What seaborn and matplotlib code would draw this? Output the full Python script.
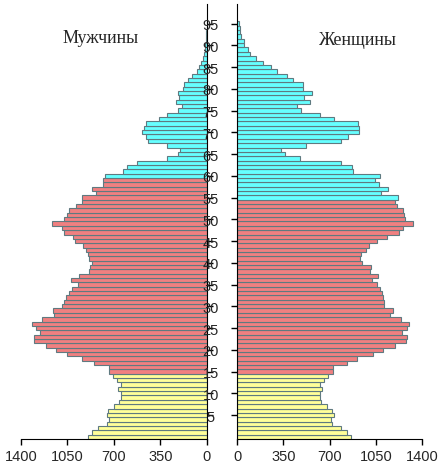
import numpy as np
import pandas as pd
import seaborn as sns
import matplotlib.pyplot as plt

# population by single year of age, 0..95 (thousands)
ages = list(range(96))
men = [893, 868, 818, 750, 738, 755, 743, 698, 660, 650, 643, 668, 650, 675, 705,
       735, 735, 848, 938, 1051, 1137, 1214, 1300, 1300, 1257, 1287, 1315, 1240, 1152, 1157,
       1089, 1074, 1059, 1036, 1014, 968, 1024, 966, 886, 881, 868, 886, 898, 911, 936,
       990, 1011, 1074, 1094, 1164, 1074, 1056, 1039, 986, 943, 943, 833, 863, 785, 780,
       765, 630, 600, 524, 304, 221, 201, 304, 442, 462, 487, 474, 457, 359, 299,
       221, 191, 231, 211, 221, 178, 171, 140, 110, 78, 58, 43, 30, 20, 15,
       13, 10, 5, 4, 3, 3]
women = [857, 834, 788, 720, 713, 735, 720, 682, 637, 629, 624, 644, 629, 660, 690,
         723, 723, 829, 905, 1026, 1102, 1193, 1276, 1284, 1246, 1284, 1299, 1238, 1155, 1178,
         1109, 1109, 1102, 1094, 1079, 1056, 1018, 1064, 1003, 1011, 943, 927, 935, 973, 996,
         1056, 1130, 1223, 1253, 1327, 1266, 1261, 1251, 1208, 1193,
         1213, 1084, 1137, 1069, 1046, 1077, 879, 872, 788, 478, 364, 334, 523, 788, 841,
         925, 925, 910, 735, 629, 485, 455, 553, 508, 569, 498, 498, 425, 374, 303,
         258, 197, 142, 99, 83, 51, 51, 30, 25, 20, 15]
# retirement age: men 60, women 55
men_retire = 60
women_retire = 55

colors = {"young": "#FFFF99", "work": "#F08080", "old": "#66FFFF"}


def group(a, retire):
    if a < 15:
        return "young"
    if a < retire:
        return "work"
    return "old"


df = pd.DataFrame({"age": ages, "men": men, "women": women})
df["g_men"] = [group(a, men_retire) for a in ages]
df["g_women"] = [group(a, women_retire) for a in ages]

sns.set_style("white")
plt.rcParams["font.family"] = ["Liberation Sans", "DejaVu Sans"]

fig = plt.figure(figsize=(4.45, 4.77), dpi=100)
axl = fig.add_axes([0.047, 0.0776, 0.418, 0.912])
axr = fig.add_axes([0.533, 0.0776, 0.416, 0.912])

for ax, col, g in [(axl, "men", "g_men"), (axr, "women", "g_women")]:
    sns.barplot(data=df, x=col, y="age", hue=g, palette=colors, orient="h",
                native_scale=True, width=1.0, dodge=False, legend=False,
                edgecolor="#5f7a80", linewidth=0.8, saturation=1, ax=ax)
    ax.set_ylim(-0.5, 99.5)
    ax.set_xlim(0, 1400)
    ax.set_xticks([0, 350, 700, 1050, 1400])
    ax.set_yticks(range(5, 100, 5))
    ax.set_xlabel("")
    ax.set_ylabel("")
    ax.tick_params(axis="both", length=4, width=1, color="black", labelsize=10.5,
                   direction="out", bottom=True, left=True)
    ax.spines["top"].set_visible(False)
    ax.spines["bottom"].set_color("black")

axl.invert_xaxis()
axl.spines["left"].set_visible(False)
axl.spines["right"].set_color("black")
axl.yaxis.tick_right()
axl.tick_params(axis="y", right=True, left=False, labelright=False)

axr.spines["right"].set_visible(False)
axr.spines["left"].set_color("black")
for lab in axr.get_yticklabels():
    lab.set_horizontalalignment("center")
axr.tick_params(axis="y", pad=15)

fig.text(0.225, 0.91, "Мужчины", fontsize=13, family="Liberation Serif", ha="center")
fig.text(0.805, 0.905, "Женщины", fontsize=13, family="Liberation Serif", ha="center")

fig.savefig("out.png", dpi=100, facecolor="white")
